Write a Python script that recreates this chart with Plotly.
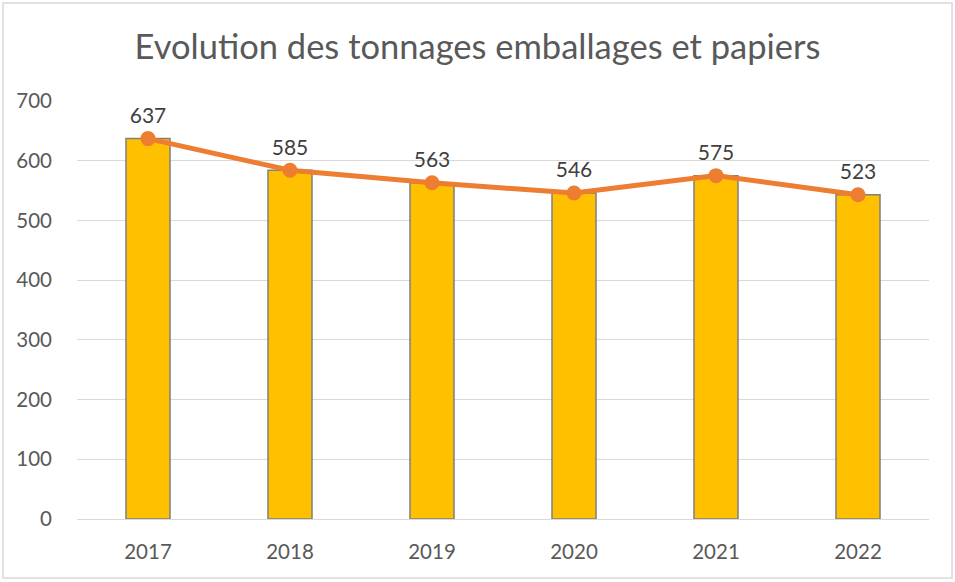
import plotly.graph_objects as go

years = ["2017", "2018", "2019", "2020", "2021", "2022"]
tonnages = [637, 584, 563, 546, 575, 543]
label_texts = ["637", "585", "563", "546", "575", "523"]
y_ticks = [0, 100, 200, 300, 400, 500, 600, 700]

font = "Lato, 'Open Sans', sans-serif"

fig = go.Figure()
fig.add_trace(go.Bar(
    x=years, y=tonnages,
    marker=dict(color="#FFC000", line=dict(color="#7F7F7F", width=1.5)),
    width=0.31, hoverinfo="x+y", showlegend=False,
))
fig.add_trace(go.Scatter(
    x=years, y=tonnages, mode="lines+markers+text",
    text=label_texts, textposition="top center",
    textfont=dict(size=21, color="#404040", family=font),
    line=dict(color="#ED7D31", width=5),
    marker=dict(color="#ED7D31", size=15),
    showlegend=False,
))

fig.update_layout(
    width=955, height=582,
    margin=dict(l=77, r=26, t=101, b=63),
    paper_bgcolor="white", plot_bgcolor="white",
    font=dict(family=font, color="#595959", size=20),
    title=dict(text="Evolution des tonnages emballages et papiers",
               x=0.5, xanchor="center", y=0.92, yanchor="middle",
               font=dict(size=34.5, color="#595959", family=font)),
    bargap=0.69,
    xaxis=dict(showgrid=False, showline=False, ticks="", ticklabelstandoff=18,
               tickfont=dict(size=20.5, color="#595959")),
    yaxis=dict(range=[0, 700], tickvals=y_ticks, showgrid=True, gridcolor="#D9D9D9",
               gridwidth=1.3, zeroline=True, zerolinecolor="#D9D9D9", zerolinewidth=1.3,
               showline=False, ticks="", ticklabelstandoff=24,
               tickfont=dict(size=20.5, color="#595959")),
    shapes=[dict(type="rect", xref="paper", yref="paper",
                 x0=(3 - 77) / 852, x1=(952 - 77) / 852,
                 y0=(519 - 578) / 418, y1=(519 - 3) / 418,
                 line=dict(color="#D9D9D9", width=1.5), layer="below")],
)

fig.write_html("out.html", config={"displayModeBar": False},
               post_script="document.body.style.margin='0';document.body.style.overflow='hidden';")
